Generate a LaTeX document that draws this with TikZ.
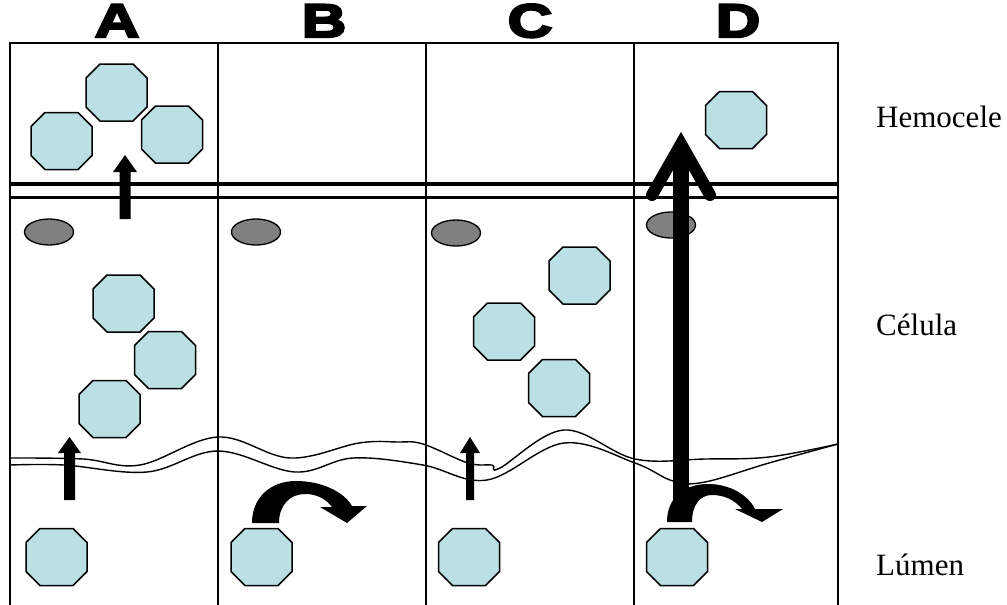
\documentclass[tikz,border=0pt]{standalone}
\usepackage{fontspec}
\setmainfont{Liberation Serif}
\newfontfamily\heavy[FakeBold=5,FakeStretch=1.32]{Liberation Sans Bold}
\definecolor{octfill}{HTML}{BBE0E3}
\definecolor{nucfill}{HTML}{808080}
\tikzset{
  oct/.style={draw=black,line width=1.5pt,fill=octfill,line join=miter},
  nuc/.style={draw=black,line width=1.3pt,fill=nucfill,ellipse,minimum width=49pt,minimum height=26pt,inner sep=0pt},
  wall/.style={line width=1.6pt},
  wave/.style={line width=1.4pt},
  letter/.style={font=\heavy\fontsize{47}{47}\selectfont,anchor=base,inner sep=0pt,text height=30pt,text depth=0pt},
  lbl/.style={font=\fontsize{31}{31}\selectfont,anchor=base west,inner sep=0pt},
}
\newcommand{\octa}[2]{\draw[oct,shift={(#1,#2)}] (-16.5,-28.5) -- (16.5,-28.5) -- (30.5,-14.5) -- (30.5,14.5) -- (16.5,28.5) -- (-16.5,28.5) -- (-30.5,14.5) -- (-30.5,-14.5) -- cycle;}
\usetikzlibrary{shapes.geometric}
\begin{document}
\begin{tikzpicture}[x=1pt,y=-1pt]
\useasboundingbox (0,0) rectangle (1007,605);
% column letters
\node[letter] (la) at (117,37) {A};
\node[letter] (lb) at (324,37) {B};
\node[letter] (lc) at (530,37) {C};
\node[letter] (ld) at (738,37) {D};
% side labels
\node[lbl] (hem) at (876,127) {Hemocele};
\node[lbl] (cel) at (876,335) {Célula};
\node[lbl] (lum) at (876,575) {Lúmen};
% box
\draw[wall] (10,607) -- (10,43) -- (838,43) -- (838,607);
\draw[wall] (218,43) -- (218,607);
\draw[wall] (426,43) -- (426,607);
\draw[wall] (634,43) -- (634,607);
% basal membrane (double line)
\draw[line width=4.5pt] (10,184) -- (838,184);
\draw[line width=3.5pt] (10,197.5) -- (838,197.5);
% apical wavy membrane
\draw[wave] plot[smooth,tension=0.6] coordinates {(10,458) (83,459) (140,465) (218,437) (290,458) (359,443) (397,442) (423,444) (468,463) (492,465) (500,468) (564,430) (635,459) (705,459) (769,457) (838,444)};
\draw[wave] plot[smooth,tension=0.6] coordinates {(10,465) (64,465) (147,472) (218,451) (295,472) (353,458) (423,465) (487,480) (564,443) (635,463) (673,481) (705,482) (769,463) (838,444)};
% nuclei
\node[nuc] (na) at (49,232) {};
\node[nuc] (nb) at (256,232) {};
\node[nuc] (nc) at (456,233) {};
\node[nuc] (nd) at (671,225) {};
% hemocele octagons
\octa{116.5}{92.5}
\octa{61.5}{141}
\octa{172}{134.5}
\octa{736}{120}
% cell octagons
\octa{123.5}{303.5}
\octa{165}{360}
\octa{109.5}{409}
\octa{579.5}{275.5}
\octa{504}{331.5}
\octa{559}{388}
% lumen octagons
\octa{56.5}{557}
\octa{261.5}{557}
\octa{469}{557}
\octa{677}{557}
% straight arrows
\fill (119.5,219) -- (119.5,172) -- (113,172) -- (125,155) -- (137,172) -- (130.5,172) -- (130.5,219) -- cycle;
\fill (64,500) -- (64,453) -- (58,453) -- (69.5,437) -- (81,453) -- (75,453) -- (75,500) -- cycle;
\fill (466,500) -- (466,453) -- (460,453) -- (470,437) -- (480,453) -- (474,453) -- (474,500) -- cycle;
% curved arrow B
\fill (252,523) .. controls (252,498) and (270,481) .. (296,481) .. controls (322,481) and (344,492) .. (352,506) -- (367,506) -- (347,523) -- (320,507) -- (332,507) .. controls (326,499) and (317,494) .. (305,494) .. controls (290,494) and (279,505) .. (279,523) -- cycle;
% big arrow D
\draw[line width=16pt] (681,522) -- (681,146);
\draw[line width=12pt,line cap=round,line join=miter] (652,195) -- (681,144) -- (710,195);
% curved arrow D
\fill (667,522) .. controls (667,497) and (685,484) .. (708,484) .. controls (730,484) and (748,495) .. (755,509) -- (783,509) -- (762,522) -- (735,509) -- (742,509) .. controls (735,500) and (724,495) .. (712,495) .. controls (700,495) and (692,505) .. (692,522) -- cycle;
\end{tikzpicture}
\end{document}
